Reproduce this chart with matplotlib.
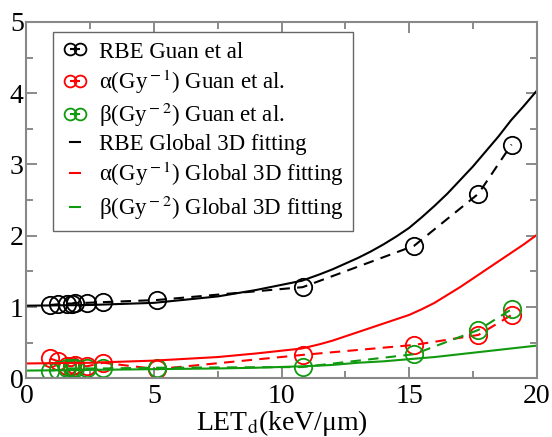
import numpy as np
import matplotlib
matplotlib.use('Agg')
import matplotlib.pyplot as plt

plt.rcParams['font.family'] = ['Liberation Serif', 'DejaVu Serif']
plt.rcParams['mathtext.fontset'] = 'stix'

# ****data ****************************************
let_exp = [0.92, 1.25, 1.58, 1.77, 1.90, 2.36, 3.01, 5.12, 10.83, 15.20, 17.72, 19.02]
rbe_exp = [1.03, 1.04, 1.05, 1.05, 1.06, 1.06, 1.07, 1.10, 1.28, 1.86, 2.59, 3.28]
alpha_exp = [0.28, 0.24, 0.18, 0.17, 0.19, 0.17, 0.22, 0.13, 0.33, 0.47, 0.61, 0.89]
beta_exp = [0.11, 0.12, 0.14, 0.14, 0.14, 0.14, 0.14, 0.15, 0.16, 0.34, 0.68, 0.97]

let_fit = [0, 2.5, 5, 7.5, 9, 10.8, 11.5, 12, 12.5, 13, 13.5, 14, 14.5, 15, 15.5,
           16, 16.5, 17, 17.5, 18, 18.5, 19, 19.5, 20]
rbe_fit = [1.02, 1.03, 1.06, 1.15, 1.24, 1.37, 1.46, 1.53, 1.61, 1.69, 1.78, 1.88, 1.99,
           2.11, 2.26, 2.42, 2.59, 2.78, 2.97, 3.18, 3.39, 3.62, 3.82, 4.03]
alpha_fit = [0.21, 0.22, 0.25, 0.30, 0.35, 0.42, 0.48, 0.53, 0.59, 0.65, 0.71, 0.77, 0.83,
             0.89, 0.97, 1.06, 1.17, 1.28, 1.40, 1.52, 1.64, 1.76, 1.88, 2.01]
beta_fit = [0.11, 0.12, 0.13, 0.14, 0.15, 0.17, 0.18, 0.19, 0.205, 0.22, 0.23, 0.24, 0.255,
            0.27, 0.285, 0.30, 0.32, 0.34, 0.36, 0.38, 0.40, 0.42, 0.44, 0.46]

green = '#109a10'

fig = plt.figure(figsize=(5.52, 4.37), dpi=100)
ax = fig.add_axes([0.048, 0.134, 0.924, 0.816])

dash = (5, 3.5)
mk = dict(marker='o', markersize=12.5, markerfacecolor='none', markeredgewidth=1.3)
ax.plot(let_exp, rbe_exp, color='black', lw=1.5, dashes=dash, label='RBE Guan et al', **mk)
ax.plot(let_exp, alpha_exp, color='red', lw=1.5, dashes=dash,
        label='α(Gy$^{\\rm -1}$) Guan et al.', **mk)
ax.plot(let_exp, beta_exp, color=green, lw=1.5, dashes=dash,
        label='β(Gy$^{\\rm -2}$) Guan et al.', **mk)
ax.plot(let_fit, rbe_fit, color='black', lw=1.5, label='RBE Global 3D fitting')
ax.plot(let_fit, alpha_fit, color='red', lw=1.5, label='α(Gy$^{\\rm -1}$) Global 3D fitting')
ax.plot(let_fit, beta_fit, color=green, lw=1.5, label='β(Gy$^{\\rm -2}$) Global 3D fitting')

ax.set_xlim(0, 20)
ax.set_ylim(0, 5)
ax.set_xticks([0, 5, 10, 15, 20])
ax.set_xticks([2.5, 7.5, 12.5, 17.5], minor=True)
ax.set_yticks([0, 1, 2, 3, 4, 5])
ax.set_yticks(np.arange(0.5, 5, 1), minor=True)
ax.tick_params(which='both', direction='in', top=True, right=True, colors='#777777',
               labelcolor='black', labelsize=20, width=1.2)
ax.tick_params(which='major', length=8)
ax.tick_params(which='minor', length=5)
ax.tick_params(axis='x', which='major', pad=4)
ax.tick_params(axis='y', which='major', pad=2)
for s in ax.spines.values():
    s.set_color('#888888')
    s.set_linewidth(1.5)

ax.set_xlabel('LET$_{\\rm d}$(keV/μm)', fontsize=20, labelpad=-1)

leg = ax.legend(loc='upper left', bbox_to_anchor=(0.052, 0.972), borderaxespad=0,
                fontsize=16.5, numpoints=2, fancybox=False, handlelength=1.07,
                handletextpad=0.5, labelspacing=0.22, borderpad=0.42, framealpha=1)
leg.get_frame().set_edgecolor('#666666')
leg.get_frame().set_linewidth(1.0)
for h in leg.legend_handles[:3]:
    h.set_markersize(8.5)

fig.savefig('out.png', dpi=100)
